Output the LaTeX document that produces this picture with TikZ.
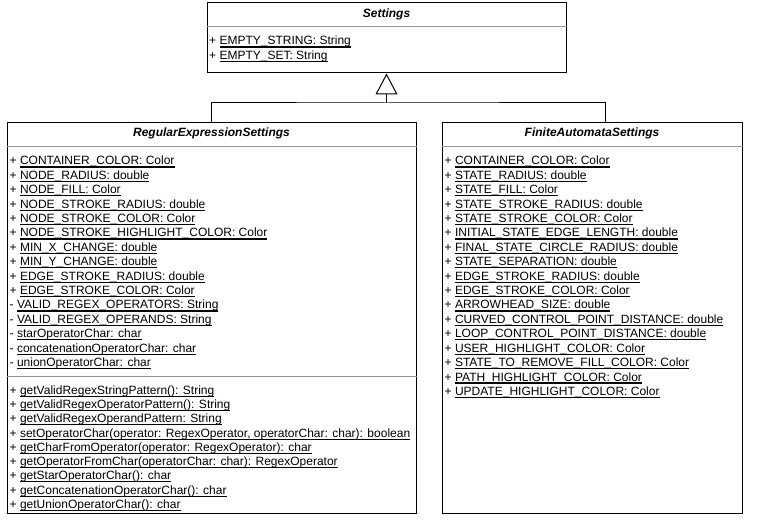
\documentclass[tikz,border=0pt]{standalone}
\usepackage{fontspec}
\setmainfont{Liberation Sans}
\usetikzlibrary{arrows.meta,positioning}
\definecolor{divider}{RGB}{150,150,150}
\newsavebox\ulbox
\newcommand{\uln}[1]{\sbox\ulbox{#1}\rlap{\usebox\ulbox}\rule[-2.6pt]{\wd\ulbox}{1.1pt}}
\newcommand{\pub}[1]{+ \uln{#1}}
\newcommand{\priv}[1]{- \uln{#1}}

\begin{document}
\begin{tikzpicture}[x=1pt, y=-1pt, font=\fontsize{12}{14.4}\selectfont,
  classbox/.style={draw, line width=1pt, inner sep=0pt},
  classname/.style={anchor=base, inner sep=0pt, font=\fontsize{12}{14.4}\selectfont\bfseries\itshape},
  member/.style={anchor=base west, inner sep=0pt}]
\useasboundingbox (0,0) rectangle (771,521);

% classes
\node(settings)[classbox, minimum width=359pt, minimum height=70pt] at (386.5,38) {};
\node(regexSettings)[classbox, minimum width=409pt, minimum height=390pt] at (211.5,318) {};
\node(faSettings)[classbox, minimum width=300pt, minimum height=390pt] at (592,318) {};

\node(settingsName)[classname] at (386.5,18) {Settings};
\node(regexName)[classname] at (211.5,137) {RegularExpressionSettings};
\node(faName)[classname] at (592,137) {FiniteAutomataSettings};

\draw[divider] ([yshift=-24pt]settings.north west) -- ([yshift=-24pt]settings.north east);
\draw[divider] ([yshift=-24pt]regexSettings.north west) -- ([yshift=-24pt]regexSettings.north east);
\draw[divider] ([yshift=-254pt]regexSettings.north west) -- ([yshift=-254pt]regexSettings.north east);
\draw[divider] ([yshift=-24pt]faSettings.north west) -- ([yshift=-24pt]faSettings.north east);

% members
\node(sAttr1)[member] at (209,45) {\pub{EMPTY\_STRING: String}};
\node(sAttr2)[member] at (209,59.5) {\pub{EMPTY\_SET: String}};

\foreach \txt [count=\i from 0] in {
  {\pub{CONTAINER\_COLOR: Color}},
  {\pub{NODE\_RADIUS: double}},
  {\pub{NODE\_FILL: Color}},
  {\pub{NODE\_STROKE\_RADIUS: double}},
  {\pub{NODE\_STROKE\_COLOR: Color}},
  {\pub{NODE\_STROKE\_HIGHLIGHT\_COLOR: Color}},
  {\pub{MIN\_X\_CHANGE: double}},
  {\pub{MIN\_Y\_CHANGE: double}},
  {\pub{EDGE\_STROKE\_RADIUS: double}},
  {\pub{EDGE\_STROKE\_COLOR: Color}},
  {\priv{VALID\_REGEX\_OPERATORS: String}},
  {\priv{VALID\_REGEX\_OPERANDS: String}},
  {\priv{starOperatorChar: char}},
  {\priv{concatenationOperatorChar: char}},
  {\priv{unionOperatorChar: char}}}
  \node(rAttr\i)[member] at (9.5,{165+14.4*\i}) {\txt};

\foreach \txt [count=\i from 0] in {
  {\pub{getValidRegexStringPattern(): String}},
  {\pub{getValidRegexOperatorPattern(): String}},
  {\pub{getValidRegexOperandPattern: String}},
  {\pub{setOperatorChar(operator: RegexOperator, operatorChar: char): boolean}},
  {\pub{getCharFromOperator(operator: RegexOperator): char}},
  {\pub{getOperatorFromChar(operatorChar: char): RegexOperator}},
  {\pub{getStarOperatorChar(): char}},
  {\pub{getConcatenationOperatorChar(): char}},
  {\pub{getUnionOperatorChar(): char}}}
  \node(rOp\i)[member] at (9.5,{394.3+14.25*\i}) {\txt};

\foreach \txt [count=\i from 0] in {
  {\pub{CONTAINER\_COLOR: Color}},
  {\pub{STATE\_RADIUS: double}},
  {\pub{STATE\_FILL: Color}},
  {\pub{STATE\_STROKE\_RADIUS: double}},
  {\pub{STATE\_STROKE\_COLOR: Color}},
  {\pub{INITIAL\_STATE\_EDGE\_LENGTH: double}},
  {\pub{FINAL\_STATE\_CIRCLE\_RADIUS: double}},
  {\pub{STATE\_SEPARATION: double}},
  {\pub{EDGE\_STROKE\_RADIUS: double}},
  {\pub{EDGE\_STROKE\_COLOR: Color}},
  {\pub{ARROWHEAD\_SIZE: double}},
  {\pub{CURVED\_CONTROL\_POINT\_DISTANCE: double}},
  {\pub{LOOP\_CONTROL\_POINT\_DISTANCE: double}},
  {\pub{USER\_HIGHLIGHT\_COLOR: Color}},
  {\pub{STATE\_TO\_REMOVE\_FILL\_COLOR: Color}},
  {\pub{PATH\_HIGHLIGHT\_COLOR: Color}},
  {\pub{UPDATE\_HIGHLIGHT\_COLOR: Color}}}
  \node(fAttr\i)[member] at (444.5,{165+14.4*\i}) {\txt};

% generalization
\coordinate(join) at (386.5,103);
\draw[line width=1pt] (regexSettings.north) |- (join) -| ([xshift=13pt]faSettings.north);
\draw[line width=1pt, -{Triangle[open, length=21pt, width=22pt]}] (join) -- (settings.south);
\end{tikzpicture}
\end{document}
